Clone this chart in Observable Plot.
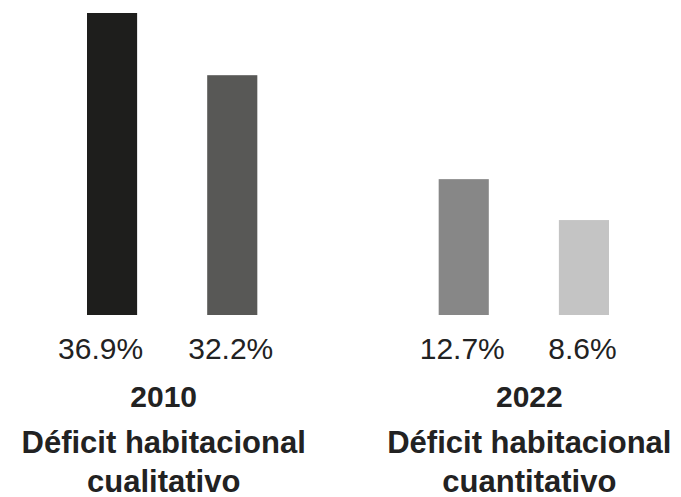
<!DOCTYPE html>
<html>
<head>
<meta charset="utf-8">
<script src="https://cdn.jsdelivr.net/npm/d3@7"></script>
<script src="https://cdn.jsdelivr.net/npm/@observablehq/plot@0.6"></script>
<style>
  html, body { margin: 0; padding: 0; background: #fff; }
</style>
</head>
<body>
<div id="chart"></div>
<script>
// ---- data ----
const barIds     = ["b1", "b2", "b3", "b4"];
const barGroups  = ["cualitativo", "cualitativo", "cuantitativo", "cuantitativo"];
const barSlots   = ["first", "second", "first", "second"];
const barValues  = [36.9, 32.2, 12.7, 8.6];            // printed values (%)
const barLabels  = ["36.9%", "32.2%", "12.7%", "8.6%"];
const barLengths = [36.9, 29.3, 16.6, 11.6];            // drawn bar lengths as seen in the picture (not to scale with labels)
const barColors  = ["#1e1e1c", "#585856", "#878787", "#c4c4c4"];

const groupKeys   = ["cualitativo", "cuantitativo"];
const groupYears  = ["2010", "2022"];
const groupTitles = ["Déficit habitacional\ncualitativo", "Déficit habitacional\ncuantitativo"];

// ---- tables built from the arrays ----
const bars = barIds.map((id, i) => ({
  id, group: barGroups[i], slot: barSlots[i], value: barValues[i],
  label: barLabels[i], length: barLengths[i]
}));
const groups = groupKeys.map((g, i) => ({ group: g, year: groupYears[i], title: groupTitles[i] }));

const textFill = "#222222";

const chart = Plot.plot({
  width: 681,
  height: 497,
  marginTop: 13,
  marginBottom: 182,
  marginLeft: 87,
  marginRight: 72,
  style: { fontFamily: "'Liberation Sans', Arial, Helvetica, sans-serif", background: "#fff" },
  fx: { domain: groupKeys, paddingInner: 0.5157, paddingOuter: 0, round: false, axis: null, label: null },
  x: { domain: ["first", "second"], paddingInner: 0.583, paddingOuter: 0, round: false, axis: null, label: null },
  y: { domain: [0, 36.9], axis: null },
  color: { domain: barIds, range: barColors },
  marks: [
    Plot.rectY(bars, { fx: "group", x: "slot", y: "length", fill: "id" }),
    // value labels
    Plot.text(bars.filter((d, i) => i === 0), {
      fx: "group", x: "slot", text: "label", frameAnchor: "bottom", lineAnchor: "bottom",
      dy: 43, dx: -12, fontSize: 30, fill: textFill
    }),
    Plot.text(bars.filter((d, i) => i > 0), {
      fx: "group", x: "slot", text: "label", frameAnchor: "bottom", lineAnchor: "bottom",
      dy: 43, dx: -2, fontSize: 30, fill: textFill
    }),
    // years
    Plot.text(groups.filter((d, i) => i === 0), {
      fx: "group", text: "year", frameAnchor: "bottom", lineAnchor: "bottom",
      dy: 91, dx: -9, fontSize: 30, fontWeight: "bold", fill: textFill
    }),
    Plot.text(groups.filter((d, i) => i === 1), {
      fx: "group", text: "year", frameAnchor: "bottom", lineAnchor: "bottom",
      dy: 91, dx: 5, fontSize: 30, fontWeight: "bold", fill: textFill
    }),
    // titles
    Plot.text(groups.filter((d, i) => i === 0), {
      fx: "group", text: "title", frameAnchor: "bottom", lineAnchor: "bottom",
      dy: 176, dx: -9, fontSize: 31, lineHeight: 1.23, fontWeight: "bold", fill: textFill
    }),
    Plot.text(groups.filter((d, i) => i === 1), {
      fx: "group", text: "title", frameAnchor: "bottom", lineAnchor: "bottom",
      dy: 176, dx: 5, fontSize: 31, lineHeight: 1.23, fontWeight: "bold", fill: textFill
    })
  ]
});

document.getElementById("chart").appendChild(chart);
</script>
</body>
</html>
